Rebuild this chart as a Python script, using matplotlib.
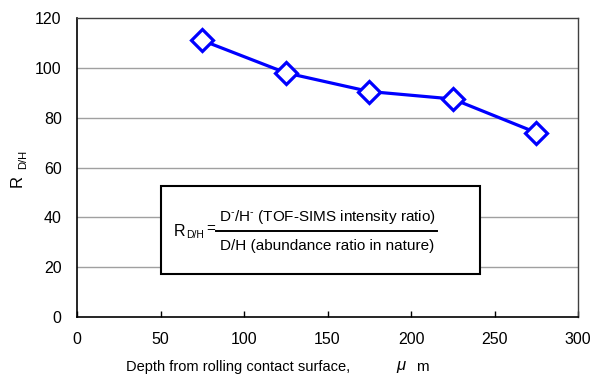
import matplotlib.pyplot as plt
from matplotlib.patches import Rectangle

plt.rcParams['font.family'] = ['Liberation Sans', 'DejaVu Sans']
plt.rcParams['mathtext.fontset'] = 'custom'
plt.rcParams['mathtext.rm'] = 'Liberation Sans'
plt.rcParams['mathtext.it'] = 'Liberation Sans:italic'

depth = [75, 125, 175, 225, 275]
r_dh = [111, 98, 90.5, 87.5, 74]
xticks = [0, 50, 100, 150, 200, 250, 300]
yticks = [0, 20, 40, 60, 80, 100, 120]

W, H = 592, 376
fig = plt.figure(figsize=(W / 100, H / 100), dpi=100)
ax = fig.add_axes([77 / W, 1 - 317 / H, 501 / W, 299 / H])

# gridlines
for y in yticks[1:-1]:
    ax.axhline(y, color='#a0a0a0', lw=1.0, zorder=0)

ax.plot(depth, r_dh, '-', color='#0000ff', lw=2.3, marker='D', ms=11,
        mfc='white', mec='#0000ff', mew=2.3, zorder=5)

ax.set_xlim(0, 300)
ax.set_ylim(0, 120)
ax.set_xticks(xticks)
ax.set_yticks(yticks)
ax.tick_params(axis='x', direction='in', length=4, width=1, labelsize=11.5, pad=11)
ax.tick_params(axis='y', length=0, labelsize=11.5, pad=11)
for s in ['left', 'bottom']:
    ax.spines[s].set_linewidth(1.2)
for s in ['top', 'right']:
    ax.spines[s].set_linewidth(1.0)
    ax.spines[s].set_color('#404040')

# formula box
ax.add_patch(Rectangle((0.168, 0.144), 0.637, 0.294, transform=ax.transAxes,
                       fill=True, fc='white', ec='black', lw=1.5, zorder=6))


def px(x, y):
    return x / W, 1 - y / H


fig.text(*px(174, 231), 'R', fontsize=11.5, ha='left', va='center', zorder=7)
fig.text(*px(186, 235), 'D/H', fontsize=7.5, ha='left', va='center', zorder=7)
fig.text(*px(206, 229), '=', fontsize=11, ha='left', va='center', zorder=7)
fig.add_artist(plt.Line2D([216 / W, 437 / W], [1 - 231 / H, 1 - 231 / H],
                          color='black', lw=1.4, zorder=7))
fig.text(*px(327, 217), r'D$^{\text{-}}$/H$^{\text{-}}$ (TOF-SIMS intensity ratio)',
         fontsize=11, ha='center', va='center', zorder=7)
fig.text(*px(327, 246), 'D/H (abundance ratio in nature)',
         fontsize=11, ha='center', va='center', zorder=7)

# y label
fig.text(*px(17, 181), 'R', rotation=90, fontsize=12, ha='center', va='center')
fig.text(*px(23, 159), 'D/H', rotation=90, fontsize=8, ha='center', va='center')

# x label
fig.text(*px(126, 367), 'Depth from rolling contact surface,', fontsize=10.5,
         ha='left', va='center')
fig.text(*px(396, 367), r'$\mu$', fontsize=12, ha='left', va='center')
fig.text(*px(416, 367), 'm', fontsize=11, ha='left', va='center')

fig.savefig('out.png', dpi=100)
